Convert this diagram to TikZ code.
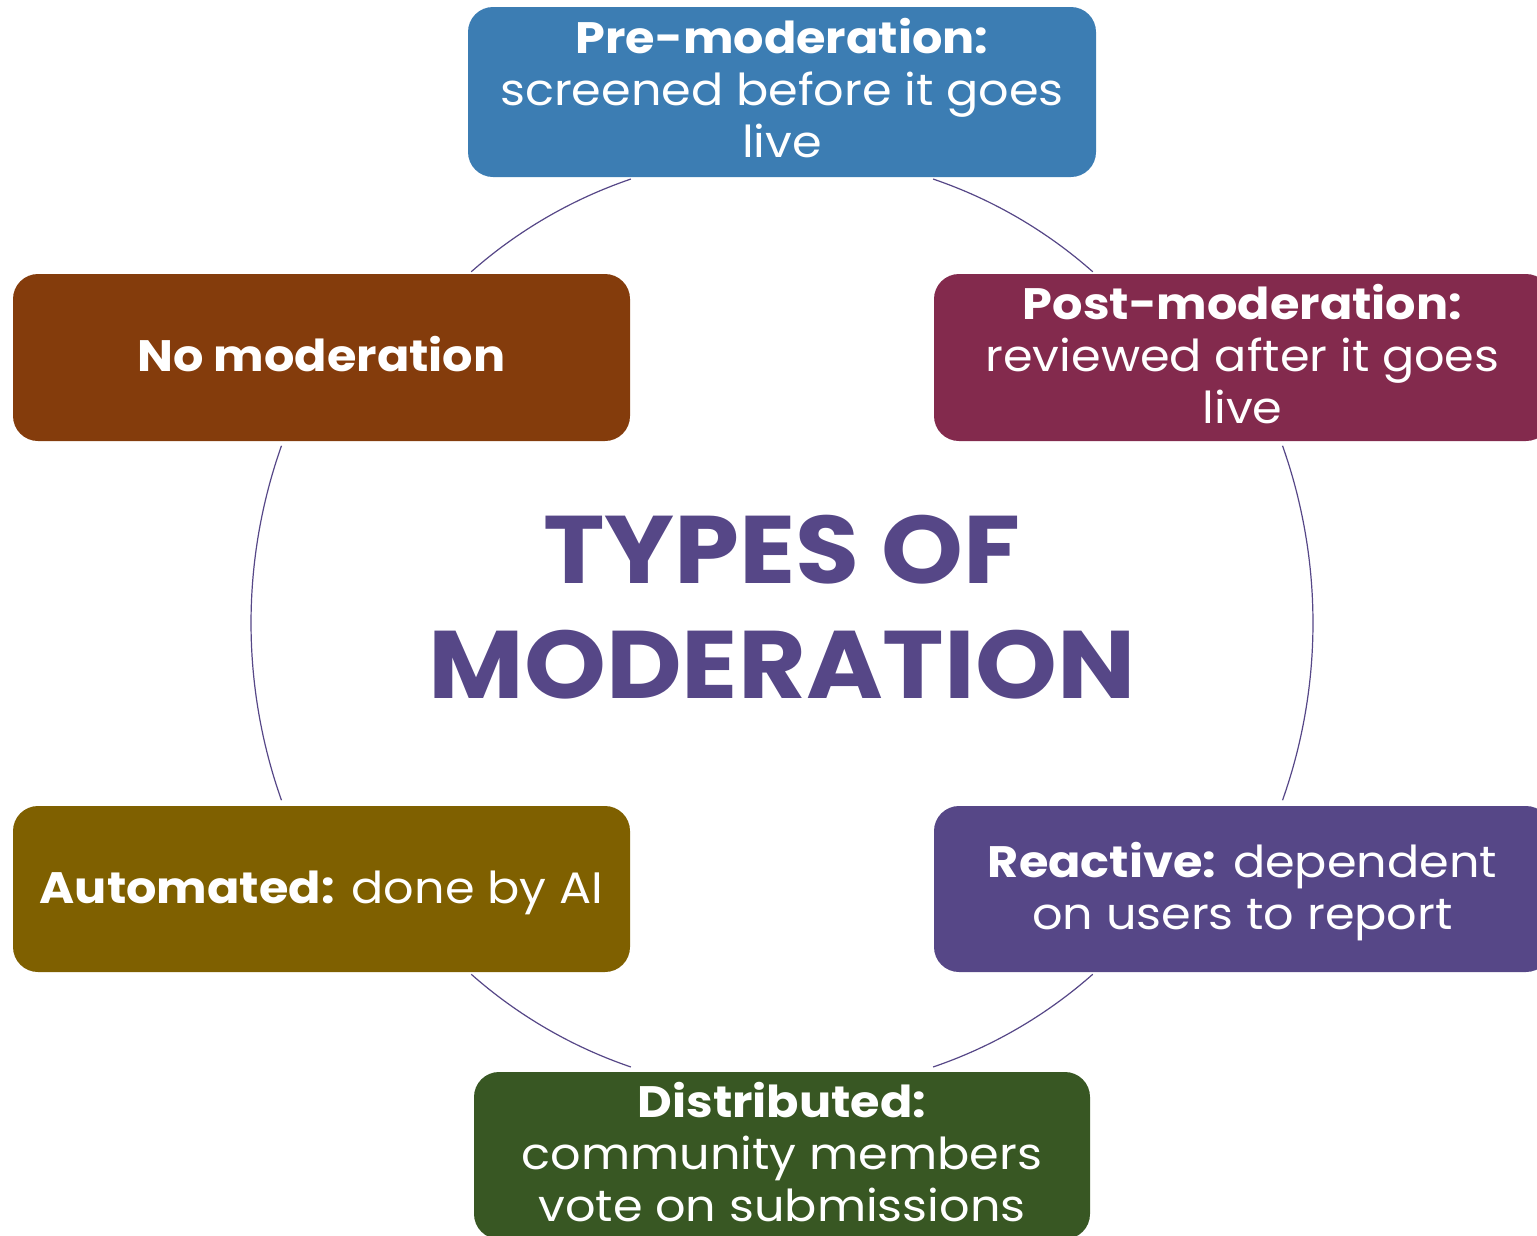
\documentclass[tikz,border=0pt]{standalone}
\usepackage{fontspec}
\setmainfont{Poppins}[FakeStretch=1.085]
\definecolor{cblue}{HTML}{3C7DB3}
\definecolor{cbrown}{HTML}{843C0C}
\definecolor{cmaroon}{HTML}{832A4D}
\definecolor{colive}{HTML}{7F6000}
\definecolor{cpurple}{HTML}{564787}
\definecolor{cgreen}{HTML}{385723}
\begin{document}
\begin{tikzpicture}[x=1pt,y=1pt,
  card/.style={rounded corners=25pt, text=white, align=center, inner sep=0pt,
    font=\fontsize{44}{52}\selectfont},
  ring/.style={draw=cpurple, line width=1.2pt}]
\useasboundingbox (0,0) rectangle (1537,-1235);
\clip (0,0) rectangle (1537,-1235);
\coordinate (c) at (782,-623);
% arcs
\draw[ring] ([shift={(108.8:469pt)}]c) arc[start angle=108.8, end angle=131.5, radius=469pt];
\draw[ring] ([shift={(71.2:469pt)}]c) arc[start angle=71.2, end angle=48.5, radius=469pt];
\draw[ring] ([shift={(160.5:531pt)}]c) arc[start angle=160.5, end angle=199.5, radius=531pt];
\draw[ring] ([shift={(19.5:531pt)}]c) arc[start angle=19.5, end angle=-19.5, radius=531pt];
\draw[ring] ([shift={(228.5:469pt)}]c) arc[start angle=228.5, end angle=251.2, radius=469pt];
\draw[ring] ([shift={(288.8:469pt)}]c) arc[start angle=288.8, end angle=311.5, radius=469pt];
% boxes
\fill[cblue, rounded corners=25pt] (468,-7) rectangle (1096,-177);
\node[card] (pre) at (782,-88) {\textbf{Pre-moderation:}\\screened before it goes\\live};
\fill[cbrown, rounded corners=25pt] (13,-274) rectangle (630,-441);
\node[card] (none) at (321.5,-354.5) {\textbf{No moderation}};
\fill[cmaroon, rounded corners=25pt] (934,-274) rectangle (1551,-441);
\node[card] (post) at (1242.5,-354.5) {\textbf{Post-moderation:}\\reviewed after it goes\\live};
\fill[colive, rounded corners=25pt] (13,-806) rectangle (630,-972);
\node[card] (auto) at (321.5,-893) {\textbf{Automated:} done by AI};
\fill[cpurple, rounded corners=25pt] (934,-806) rectangle (1551,-972);
\node[card] (react) at (1242.5,-892) {\textbf{Reactive:} dependent\\on users to report};
\fill[cgreen, rounded corners=25pt] (474,-1072) rectangle (1090,-1239);
\node[card] (dist) at (782,-1152) {\textbf{Distributed:}\\community members\\vote on submissions};
% title
\node[text=cpurple, align=center, font=\fontsize{96}{115}\selectfont\bfseries] (title) at (782,-607) {TYPES OF\\MODERATION};
\end{tikzpicture}
\end{document}
